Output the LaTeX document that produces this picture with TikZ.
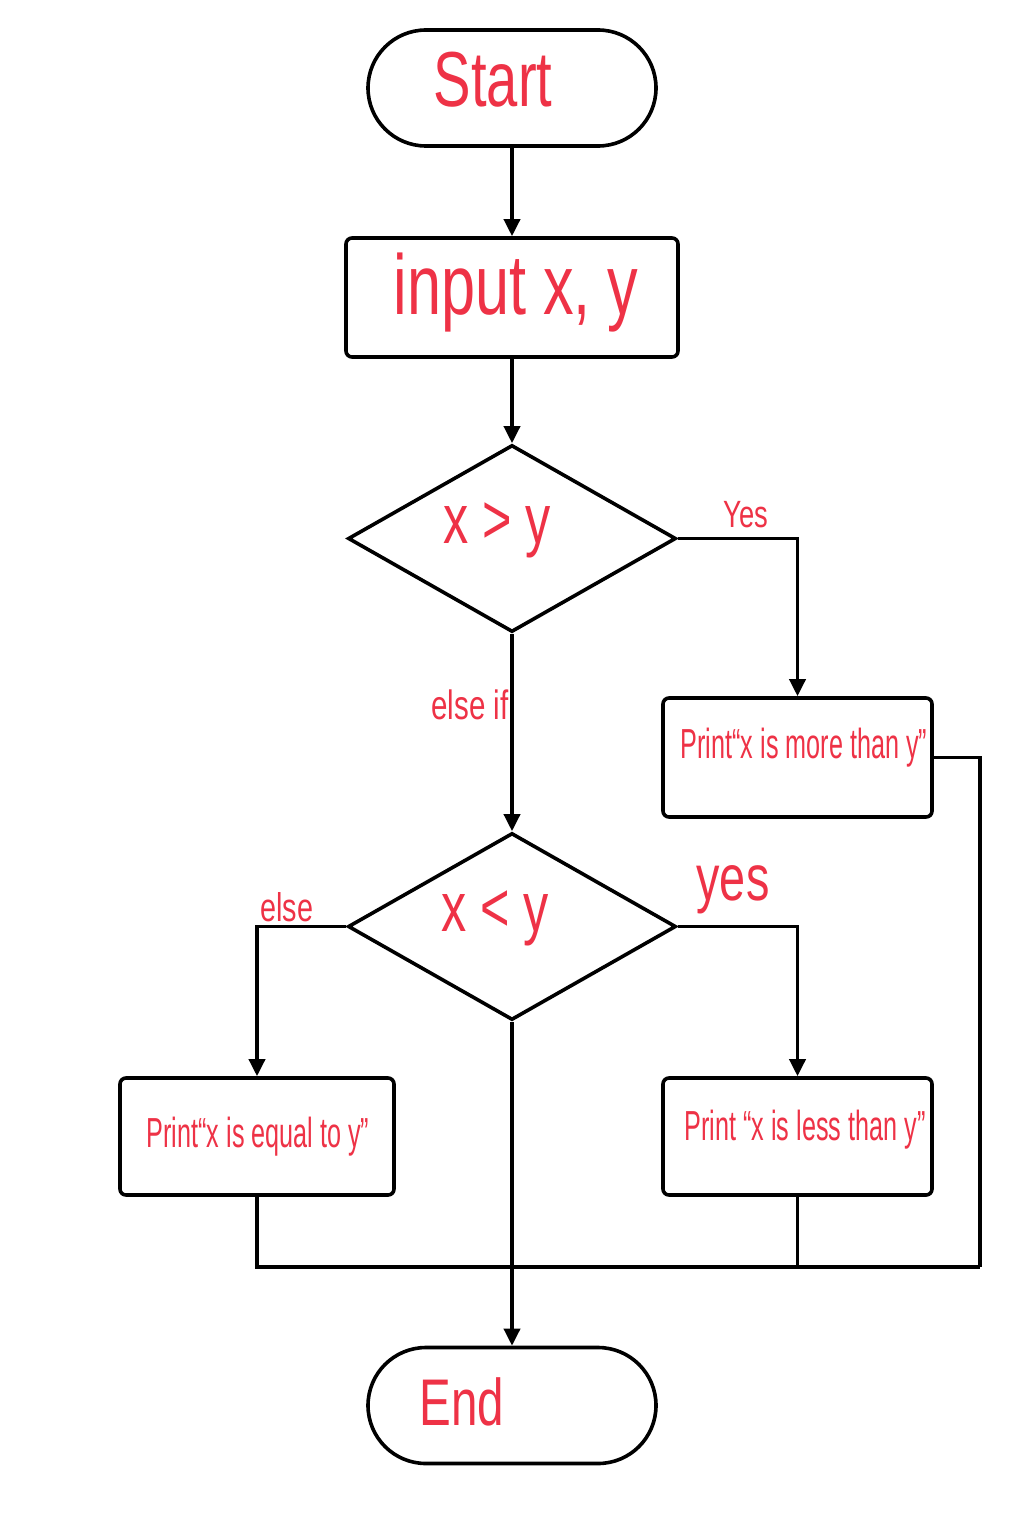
\documentclass[tikz,border=0pt]{standalone}
\usepackage{fontspec}
\setmainfont[FakeStretch=0.72]{Liberation Sans}
\newfontfamily\narrowhand[FakeStretch=0.6]{Liberation Sans}
\usetikzlibrary{shapes.misc,shapes.geometric,arrows.meta}
\definecolor{pen}{RGB}{238,50,70}
\tikzset{
  line/.style={line width=3.6pt, draw=black},
  arr/.style={line, -{Triangle[length=17pt,width=16pt]}},
  term/.style={rounded rectangle, line, minimum width=288pt, minimum height=116pt, inner sep=0pt},
  proc/.style={rectangle, rounded corners=6pt, line, inner sep=0pt},
  dec/.style={diamond, line, minimum width=328pt, minimum height=187pt, inner sep=0pt, text width=1pt},
  hand/.style={text=pen, inner sep=0pt, font=#1},
}
\newcommand{\fsz}[1]{\fontsize{#1}{#1}\selectfont}
\begin{document}
\begin{tikzpicture}[x=1pt,y=-1pt]
\useasboundingbox (0,0) rectangle (1024,1536);
\fill[white] (0,0) rectangle (1024,1536);
% shapes
\node[term] (start) at (512,88) {};
\node[proc, minimum width=332pt, minimum height=119pt] (input) at (512,297.5) {};
\node[dec] (d1) at (512,538.5) {};
\node[proc, minimum width=269pt, minimum height=119pt] (more) at (797.5,757.5) {};
\node[dec] (d2) at (512,926.5) {};
\node[proc, minimum width=274pt, minimum height=117pt] (eq) at (257,1136.5) {};
\node[proc, minimum width=269pt, minimum height=117pt] (less) at (797.5,1136.5) {};
\node[term] (end) at (512,1405.5) {};
\coordinate (jR) at (980,1267);
% texts
\node[hand=\fsz{78}] (tstart) at (493,80) {Start};
\node[hand=\fsz{85}] (tinput) at (516,293) {input x, y};
\node[hand=\fsz{70}] (td1) at (497,530) {x > y};
\node[hand=\fsz{70}] (td2) at (495,918) {x < y};
\node[hand=\fsz{66}] (tend) at (462,1402) {End};
\node[hand=\narrowhand\fsz{42}] (tmore) at (804,748) {Print“x is more than y”};
\node[hand=\narrowhand\fsz{42}] (teq) at (258,1137) {Print“x is equal to y”};
\node[hand=\narrowhand\fsz{42}] (tless) at (805,1130) {Print “x is less than y”};
\node[hand=\fsz{38}] (lyes1) at (746,515) {Yes};
\node[hand=\fsz{41}] (lelif) at (470,705) {else if};
\node[hand=\fsz{65}] (lyes2) at (733,890) {yes};
\node[hand=\fsz{40}] (lelse) at (287,907) {else};
% connectors
\draw[arr] (start.south) -- (input.north);
\draw[arr] (input.south) -- (d1.north);
\draw[arr] (d1.east) -| (more.north);
\draw[arr] (d1.south) -- (d2.north);
\draw[arr] (d2.west) -| (eq.north);
\draw[arr] (d2.east) -| (less.north);
\draw[arr] (d2.south) -- (end.north);
\draw[line] (eq.south) |- (jR);
\draw[line] (less.south) -- (less.south |- jR);
\draw[line] (more.east) -| (jR);
\end{tikzpicture}
\end{document}
